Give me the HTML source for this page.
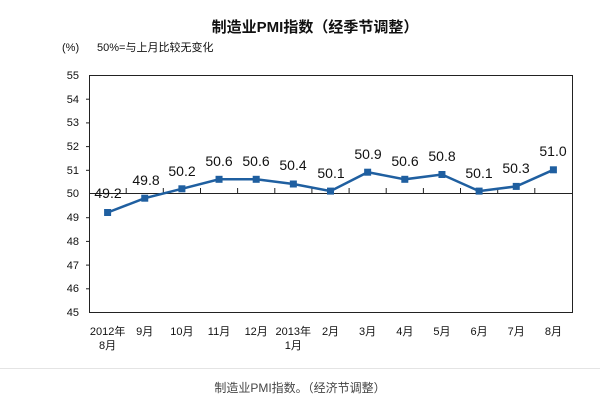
<!DOCTYPE html>
<html><head><meta charset="utf-8"><style>
body{margin:0;background:#fff;}
svg text{font-family:"Liberation Sans","Noto Sans CJK SC",sans-serif;}
</style></head><body>
<svg width="600" height="400" viewBox="0 0 600 400" xmlns="http://www.w3.org/2000/svg">
<text x="315" y="32" font-size="15" font-weight="bold" text-anchor="middle" fill="#111">制造业PMI指数（经季节调整）</text>
<text x="62" y="51" font-size="11" fill="#111">(%)</text>
<text x="97" y="51" font-size="11" fill="#111">50%=与上月比较无变化</text>
<rect x="89.5" y="75.5" width="483" height="237" fill="none" stroke="#222" stroke-width="1"/>
<g stroke="#222" stroke-width="1">
<line x1="86" y1="99.2" x2="89" y2="99.2"/><line x1="86" y1="122.9" x2="89" y2="122.9"/><line x1="86" y1="146.6" x2="89" y2="146.6"/><line x1="86" y1="170.3" x2="89" y2="170.3"/><line x1="86" y1="217.7" x2="89" y2="217.7"/><line x1="86" y1="241.4" x2="89" y2="241.4"/><line x1="86" y1="265.1" x2="89" y2="265.1"/><line x1="86" y1="288.8" x2="89" y2="288.8"/>
<line x1="89" y1="193.5" x2="572" y2="193.5"/>
<line x1="126.2" y1="188" x2="126.2" y2="193.5"/><line x1="163.3" y1="188" x2="163.3" y2="193.5"/><line x1="200.5" y1="188" x2="200.5" y2="193.5"/><line x1="237.6" y1="188" x2="237.6" y2="193.5"/><line x1="274.8" y1="188" x2="274.8" y2="193.5"/><line x1="311.9" y1="188" x2="311.9" y2="193.5"/><line x1="349.1" y1="188" x2="349.1" y2="193.5"/><line x1="386.2" y1="188" x2="386.2" y2="193.5"/><line x1="423.4" y1="188" x2="423.4" y2="193.5"/><line x1="460.5" y1="188" x2="460.5" y2="193.5"/><line x1="497.7" y1="188" x2="497.7" y2="193.5"/><line x1="534.8" y1="188" x2="534.8" y2="193.5"/>
</g>
<g font-size="11" fill="#111" text-anchor="end">
<text x="79" y="79">55</text><text x="79" y="103">54</text><text x="79" y="126">53</text><text x="79" y="150">52</text><text x="79" y="174">51</text><text x="79" y="197">50</text><text x="79" y="221">49</text><text x="79" y="245">48</text><text x="79" y="269">47</text><text x="79" y="292">46</text><text x="79" y="316">45</text>
</g>
<polyline fill="none" stroke="#1f5fa0" stroke-width="2.5" points="107.6,212.5 144.75,198.2 181.9,188.8 219.05,179.3 256.2,179.3 293.35,184 330.5,191.1 367.65,172.2 404.8,179.3 441.95,174.5 479.1,191.1 516.25,186.4 553.4,169.8"/>
<g fill="#1f5fa0">
<rect x="104.1" y="209" width="7" height="7"/><rect x="141.25" y="194.7" width="7" height="7"/><rect x="178.4" y="185.3" width="7" height="7"/><rect x="215.55" y="175.8" width="7" height="7"/><rect x="252.7" y="175.8" width="7" height="7"/><rect x="289.85" y="180.5" width="7" height="7"/><rect x="327" y="187.6" width="7" height="7"/><rect x="364.15" y="168.7" width="7" height="7"/><rect x="401.3" y="175.8" width="7" height="7"/><rect x="438.45" y="171" width="7" height="7"/><rect x="475.6" y="187.6" width="7" height="7"/><rect x="512.75" y="182.9" width="7" height="7"/><rect x="549.9" y="166.3" width="7" height="7"/>
</g>
<g font-size="14" fill="#111" text-anchor="middle">
<text x="108" y="198">49.2</text><text x="146" y="185">49.8</text><text x="182" y="176">50.2</text><text x="219" y="166">50.6</text><text x="256" y="166">50.6</text><text x="293" y="170">50.4</text><text x="331" y="178">50.1</text><text x="368" y="159">50.9</text><text x="405" y="166">50.6</text><text x="442" y="161">50.8</text><text x="479" y="178">50.1</text><text x="516" y="173">50.3</text><text x="553" y="156">51.0</text>
</g>
<g font-size="11" fill="#111" text-anchor="middle">
<text x="107.6" y="335">2012年</text><text x="107.6" y="349">8月</text>
<text x="144.7" y="335">9月</text><text x="181.9" y="335">10月</text><text x="219" y="335">11月</text><text x="256.2" y="335">12月</text>
<text x="293.3" y="335">2013年</text><text x="293.3" y="349">1月</text>
<text x="330.5" y="335">2月</text><text x="367.6" y="335">3月</text><text x="404.8" y="335">4月</text><text x="441.9" y="335">5月</text><text x="479.1" y="335">6月</text><text x="516.2" y="335">7月</text><text x="553.4" y="335">8月</text>
</g>
<line x1="0" y1="368.5" x2="600" y2="368.5" stroke="#e4e4e4"/>
<text x="300" y="392" font-size="12" fill="#444" text-anchor="middle">制造业PMI指数。（经济节调整）</text>
</svg>
</body></html>
